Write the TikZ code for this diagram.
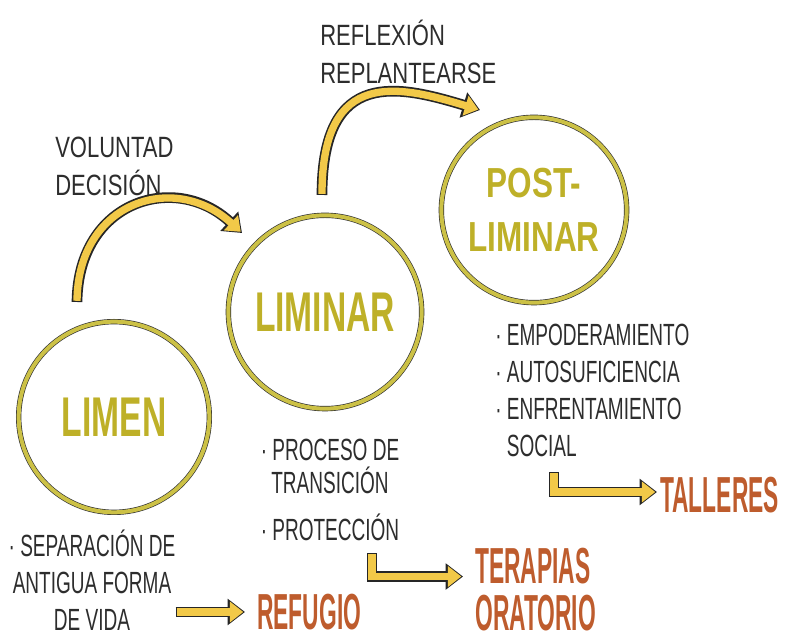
\documentclass[tikz,border=0pt]{standalone}
\usepackage{fontspec}
\usepackage{tikz}
\usepackage{xcolor}
\usetikzlibrary{arrows.meta, positioning}
\setmainfont{Liberation Sans}
\newfontfamily\handfont{Liberation Sans}[FakeStretch=0.62]
\newfontfamily\ringfont{Liberation Sans}[FakeStretch=0.6]
\newfontfamily\ringwide{Liberation Sans}[FakeStretch=0.75]
\newfontfamily\tallfont{Liberation Sans}[FakeStretch=0.45]
\definecolor{ringyellow}{RGB}{204,193,70}
\definecolor{labelyellow}{RGB}{190,176,40}
\definecolor{arrowgold}{RGB}{242,201,72}
\definecolor{placeorange}{RGB}{190,92,45}
\definecolor{ink}{RGB}{45,45,45}
\tikzstyle{stagering}  = [circle, draw=black!80, line width=0.5pt, double=ringyellow, double distance=3pt,
                          fill=white, text=labelyellow, align=center,
                          font=\ringfont\bfseries\fontsize{42}{42}\selectfont]
\tikzstyle{notetext}   = [inner sep=0pt, text=ink, font=\handfont\fontsize{23}{27.75}\selectfont]
\tikzstyle{headtext}   = [inner sep=0pt, text=ink, align=left, font=\ringwide\fontsize{22}{28.5}\selectfont]
\tikzstyle{placetext}  = [inner sep=0pt, text=placeorange, align=left,
                          font=\tallfont\bfseries\fontsize{38}{35}\selectfont]
\tikzstyle{flowarrow}  = [draw=black!85, line width=8pt, line join=miter, -{Triangle[width=19pt,length=13pt]},
                          postaction={draw=arrowgold, line width=5.5pt, -{Triangle[width=15pt,length=10pt]},
                          shorten <=0.9pt, shorten >=1.3pt}]
\begin{document}
\begin{tikzpicture}[x=0.75pt, y=0.75pt]
    \path[use as bounding box, fill=white] (0,0) rectangle (789,641);

    % the three stages
    \node (limen) [stagering, minimum size=143pt] at (114,224) {LIMEN};
    \node (liminar) [stagering, minimum size=145pt] at (325,329) {LIMINAR};
    \node (post) [stagering, minimum size=139pt, font=\ringwide\bfseries\fontsize{31.5}{40}\selectfont] at (534,431) {POST-\\LIMINAR};

    % labels over the bends
    \node (decide) [headtext, anchor=north west] at (55,504) {VOLUNTAD\\DECISIÓN};
    \node (reflect) [headtext, anchor=north west] at (320,621) {REFLEXIÓN\\REPLANTEARSE};

    % notes under each stage
    \node (sep) [notetext, align=center, anchor=north] at (92,111) {· SEPARACIÓN DE\\ANTIGUA FORMA\\DE VIDA};
    \node (proc) [notetext, align=center, anchor=north, font=\handfont\fontsize{23}{24.75}\selectfont] at (330,202) {· PROCESO DE\\TRANSICIÓN\\[10.5pt]· PROTECCIÓN};
    \node (empower) [notetext, align=left, anchor=north west] at (495,317) {· EMPODERAMIENTO\\· AUTOSUFICIENCIA\\· ENFRENTAMIENTO\\\phantom{· }SOCIAL};

    % places
    \node (refugio) [placetext, anchor=west] at (257,29) {REFUGIO};
    \node (therapy) [placetext, anchor=north west] at (475,93) {TERAPIAS\\ORATORIO};
    \node (talleres) [placetext, anchor=west] at (660,146) {TALLERES};

    \draw[flowarrow] ([shift={(-37,115)}]limen.center) .. controls +(1,101) and +(-67,62) .. ([shift={(-83,79)}]liminar.center);
    \draw[flowarrow] ([shift={(-3,117)}]liminar.center) .. controls +(0,129) and +(-80,24) .. ([shift={(-54,100)}]post.center);
    \draw[flowarrow] (sep.east |- refugio.west) -- ([shift={(-12,0)}]refugio.west);
    \draw[flowarrow] ([shift={(42,-12)}]proc.south) |- ([shift={(-12,13)}]therapy.west);
    \draw[flowarrow] ([shift={(59,-15)}]empower.south west) |- ([shift={(-3,3)}]talleres.west);
\end{tikzpicture}
\end{document}
